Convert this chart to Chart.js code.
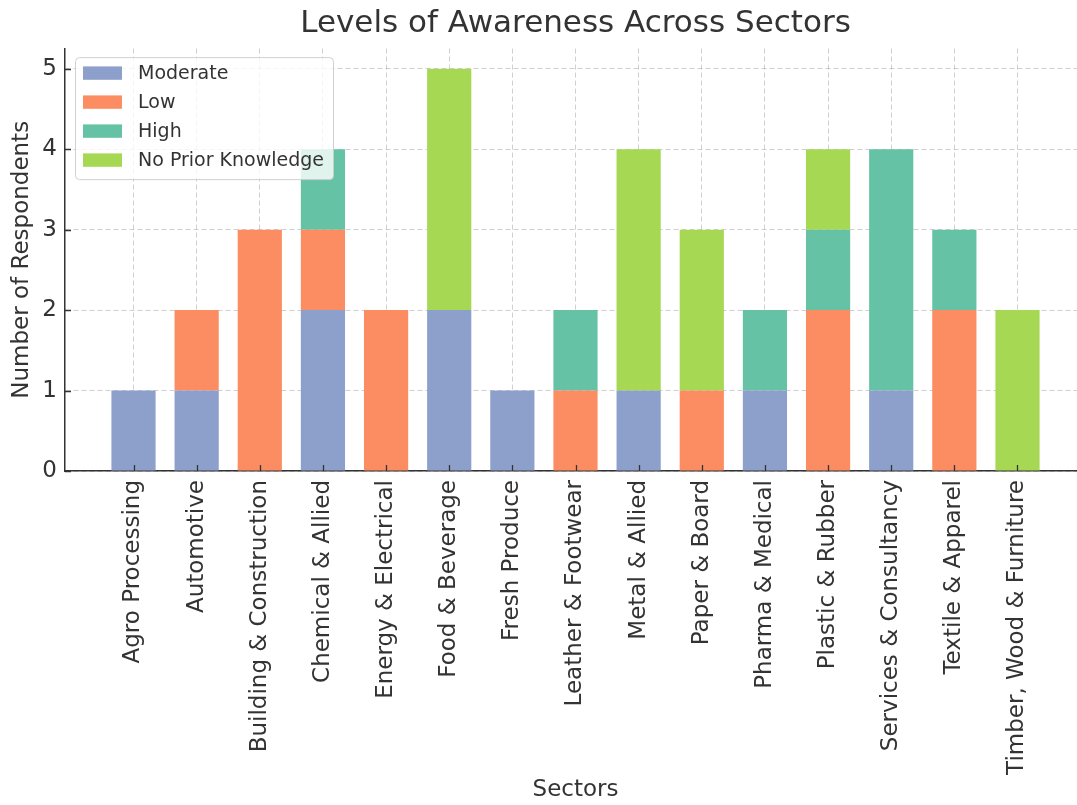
<!DOCTYPE html>
<html>
<head>
<meta charset="utf-8">
<title>Levels of Awareness Across Sectors</title>
<script src="https://cdn.jsdelivr.net/npm/chart.js@4.4.0/dist/chart.umd.min.js"></script>
<style>
  html, body { margin: 0; padding: 0; background: #fff; overflow: hidden; }
  #grafico { display: block; }
</style>
</head>
<body>
<!-- el lienzo es un poco mas ancho que la ventana: el borde derecho queda recortado -->
<canvas id="grafico" width="1086" height="805"></canvas>
<script>
const sectores = [
  "Agro Processing", "Automotive", "Building & Construction", "Chemical & Allied",
  "Energy & Electrical", "Food & Beverage", "Fresh Produce", "Leather & Footwear",
  "Metal & Allied", "Paper & Board", "Pharma & Medical", "Plastic & Rubber",
  "Services & Consultancy", "Textile & Apparel", "Timber, Wood & Furniture"
];
const moderate = [1, 1, 0, 2, 0, 2, 1, 0, 1, 0, 1, 0, 1, 0, 0];
const low      = [0, 1, 3, 1, 2, 0, 0, 1, 0, 1, 0, 2, 0, 2, 0];
const high     = [0, 0, 0, 1, 0, 0, 0, 1, 0, 0, 1, 1, 3, 1, 0];
const noPrior  = [0, 0, 0, 0, 0, 3, 0, 0, 3, 2, 0, 1, 0, 0, 2];
const yTicks   = [0, 1, 2, 3, 4, 5];

const texto = "#333333";
const rejilla = "rgba(170,170,170,0.55)";
Chart.defaults.font.family = "'DejaVu Sans', sans-serif";
Chart.defaults.color = texto;

const serie = (label, valores, color) => ({
  label: label,
  data: valores.map((v, i) => ({ x: i, y: v })),
  backgroundColor: color,
  borderWidth: 0,
  barPercentage: 0.7,
  categoryPercentage: 1.0
});

// ticks hacia adentro, como en matplotlib
const ticksInternos = {
  id: "ticksInternos",
  afterDraw(chart) {
    const { ctx, chartArea, scales } = chart;
    ctx.save();
    ctx.setLineDash([]);
    ctx.strokeStyle = texto;
    ctx.lineWidth = 1.3;
    ctx.beginPath();
    sectores.forEach((_, i) => {
      const px = Math.round(scales.x.getPixelForValue(i)) + 0.5;
      ctx.moveTo(px, chartArea.bottom);
      ctx.lineTo(px, chartArea.bottom - 6);
    });
    yTicks.forEach((v) => {
      const py = Math.round(scales.y.getPixelForValue(v)) + 0.5;
      ctx.moveTo(chartArea.left, py);
      ctx.lineTo(chartArea.left + 6, py);
    });
    ctx.stroke();
    ctx.restore();
  }
};

// leyenda dentro del area del grafico (arriba a la izquierda)
const leyendaInterna = {
  id: "leyendaInterna",
  afterDraw(chart) {
    const { ctx, chartArea } = chart;
    const x0 = chartArea.left + 10;
    const y0 = chartArea.top + 8.5;
    const ancho = 258, alto = 122, r = 4;
    ctx.save();
    ctx.setLineDash([]);
    ctx.beginPath();
    ctx.roundRect(x0 + 0.5, y0 + 0.5, ancho, alto, r);
    ctx.fillStyle = "rgba(255,255,255,0.8)";
    ctx.fill();
    ctx.strokeStyle = "rgba(204,204,204,0.9)";
    ctx.lineWidth = 1;
    ctx.stroke();
    ctx.font = "19px 'DejaVu Sans'";
    ctx.textBaseline = "middle";
    chart.data.datasets.forEach((ds, i) => {
      const cy = y0 + 16 + 29 * i;
      ctx.fillStyle = ds.backgroundColor;
      ctx.fillRect(x0 + 8, cy - 6.7, 39, 13.4);
      ctx.fillStyle = texto;
      ctx.fillText(ds.label, x0 + 63, cy + 1);
    });
    ctx.restore();
  }
};

const ctx = document.getElementById("grafico").getContext("2d");
const grafico = new Chart(ctx, {
  type: "bar",
  data: {
    datasets: [
      serie("Moderate", moderate, "#8DA0CB"),
      serie("Low", low, "#FC8D62"),
      serie("High", high, "#66C2A5"),
      serie("No Prior Knowledge", noPrior, "#A6D854")
    ]
  },
  options: {
    responsive: false,
    animation: false,
    devicePixelRatio: 1,
    layout: { padding: 0 },
    plugins: {
      legend: { display: false },
      tooltip: { enabled: false },
      title: {
        display: true,
        fullSize: false,
        text: "Levels of Awareness Across Sectors",
        color: texto,
        font: { size: 31, weight: "normal" },
        padding: { top: 5.5, bottom: 5.9 }
      }
    },
    scales: {
      x: {
        type: "linear",
        stacked: true,
        offset: false,
        min: -1.085,
        max: 15.085,
        z: 1,
        afterBuildTicks: (scale) => {
          scale.ticks = sectores.map((_, i) => ({ value: i }));
        },
        afterFit: (scale) => { scale.height = 334; },
        ticks: {
          autoSkip: false,
          minRotation: 90,
          maxRotation: 90,
          padding: 9,
          color: texto,
          font: { size: 23 },
          callback: (v) => sectores[v]
        },
        grid: {
          offset: false,
          color: rejilla,
          lineWidth: 1,
          drawTicks: false
        },
        border: { display: true, color: texto, width: 1.5, dash: [5, 3] },
        title: {
          display: true,
          text: "Sectors",
          color: texto,
          font: { size: 23 },
          padding: { top: 0, bottom: 1 }
        }
      },
      y: {
        stacked: true,
        min: 0,
        max: 5.25,
        z: 1,
        afterBuildTicks: (scale) => {
          scale.ticks = yTicks.map((v) => ({ value: v }));
        },
        afterFit: (scale) => { scale.width = 65; },
        ticks: {
          padding: 8,
          color: texto,
          font: { size: 23 }
        },
        grid: {
          color: rejilla,
          lineWidth: 1,
          drawTicks: false
        },
        border: { display: true, color: texto, width: 1.5, dash: [5, 3] },
        title: {
          display: true,
          text: "Number of Respondents",
          color: texto,
          font: { size: 23 },
          padding: { top: 8, bottom: 0 }
        }
      }
    }
  },
  plugins: [ticksInternos, leyendaInterna]
});
</script>
</body>
</html>
